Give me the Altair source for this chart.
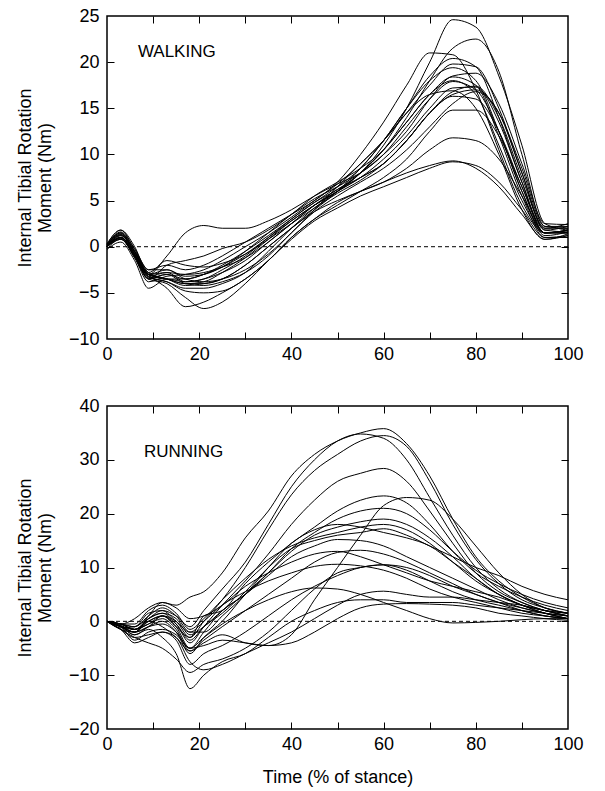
import altair as alt
import pandas as pd

# ---------------- data ----------------
W_X = [0, 3, 6, 9, 13, 17, 21, 25, 30, 35, 40, 45, 50, 55, 60, 65, 70, 75, 80, 85, 90, 95, 100]
walking = [
    [0.2, 1.5, -0.5, -3.0, -3.5, -4.0, -3.8, -2.8, -1.2, 0.8, 2.8, 4.5, 6.0, 8.0, 11.0, 15.0, 20.0, 24.6, 23.8, 18.5, 11.0, 2.5, 1.8],
    [0.0, 1.0, -1.0, -3.5, -3.0, -3.5, -3.0, -2.0, -0.5, 1.2, 3.0, 4.8, 6.2, 8.0, 10.5, 14.0, 18.0, 21.5, 22.5, 19.0, 10.0, 2.2, 2.0],
    [0.3, 1.8, -0.3, -2.5, -2.0, -2.5, -2.0, -1.0, 0.5, 2.0, 3.5, 5.0, 7.0, 10.0, 13.5, 17.5, 21.0, 20.8, 17.0, 10.5, 4.5, 1.5, 1.8],
    [0.0, 1.2, -0.8, -3.2, -2.8, -3.8, -3.5, -2.5, -1.0, 1.0, 3.0, 4.8, 6.5, 8.5, 11.5, 15.0, 18.5, 20.4, 19.5, 14.0, 7.0, 1.5, 1.5],
    [-0.2, 0.8, -1.2, -3.8, -3.2, -3.0, -2.5, -1.5, 0.0, 1.5, 3.2, 5.0, 6.8, 9.0, 11.5, 14.5, 17.5, 19.8, 19.5, 15.0, 8.0, 1.8, 2.2],
    [0.1, 1.5, -0.5, -2.8, -3.5, -4.2, -4.0, -3.5, -2.0, 0.0, 2.0, 4.0, 6.0, 8.5, 11.5, 15.0, 18.0, 19.4, 18.0, 12.5, 6.0, 1.2, 1.6],
    [0.0, 0.8, -1.0, -3.0, -2.5, -3.2, -3.0, -2.2, -0.5, 1.5, 3.5, 5.2, 6.5, 8.0, 10.0, 12.5, 16.0, 18.5, 18.8, 15.5, 9.0, 2.5, 2.4],
    [0.2, 1.3, -0.6, -3.3, -3.8, -4.5, -4.5, -4.0, -2.8, -0.5, 2.0, 4.2, 6.0, 8.0, 10.5, 13.5, 16.5, 18.4, 17.5, 12.0, 5.5, 1.0, 1.2],
    [0.0, 1.0, -1.0, -3.5, -2.0, -1.5, -1.0, -0.2, 0.5, 1.8, 3.5, 5.5, 7.0, 8.5, 10.5, 13.5, 16.5, 18.0, 16.5, 11.0, 5.0, 1.5, 1.5],
    [-0.3, 0.5, -1.5, -4.5, -3.5, -3.8, -3.5, -2.8, -1.5, 0.5, 2.5, 4.5, 6.0, 7.5, 9.5, 12.0, 15.0, 17.2, 17.3, 13.5, 7.0, 1.5, 1.8],
    [0.0, 1.0, -0.8, -3.0, -3.5, -3.5, -3.0, -2.2, -0.8, 1.0, 2.8, 4.5, 6.0, 7.5, 9.0, 11.5, 14.5, 16.5, 17.0, 14.5, 8.0, 2.0, 2.5],
    [0.2, 1.6, -0.2, -2.5, -2.5, -3.5, -3.8, -3.5, -2.5, -0.8, 1.5, 4.0, 6.5, 9.0, 11.5, 14.5, 16.5, 16.9, 15.0, 10.0, 4.0, 0.8, 1.4],
    [0.0, 0.9, -1.2, -3.4, -3.0, -4.0, -4.2, -3.8, -2.8, -1.0, 1.5, 3.8, 5.5, 7.0, 8.5, 10.5, 13.0, 15.5, 16.8, 14.5, 8.5, 2.2, 2.2],
    [0.1, 1.4, -0.6, -2.8, -1.5, -2.0, -2.2, -1.8, -0.8, 0.8, 2.5, 4.2, 5.8, 7.2, 9.0, 11.5, 14.5, 16.3, 16.0, 12.5, 6.5, 1.5, 1.8],
    [0.0, 1.0, -0.8, -3.2, -3.8, -4.8, -5.0, -4.8, -3.5, -1.5, 1.0, 3.0, 4.5, 6.0, 7.5, 9.5, 12.5, 14.8, 14.8, 12.0, 6.5, 1.8, 1.6],
    [0.0, 1.2, -0.5, -3.0, -3.5, -4.0, -4.0, -3.5, -2.0, 0.0, 2.0, 3.8, 5.0, 6.0, 7.0, 8.5, 10.5, 11.8, 11.5, 9.5, 5.5, 1.5, 1.5],
    [0.2, 1.0, -1.0, -3.0, -4.5, -6.5, -6.0, -5.0, -3.5, -1.5, 1.0, 3.0, 4.8, 6.0, 7.0, 8.0, 8.8, 9.3, 8.5, 6.5, 3.5, 0.8, 1.2],
    [0.0, 1.3, -0.8, -3.5, -4.0, -5.5, -6.7, -6.0, -4.0, -1.5, 0.8, 2.8, 4.2, 5.5, 6.5, 7.5, 8.5, 9.2, 8.8, 7.0, 4.0, 1.0, 1.0],
    [0.0, 0.8, -1.0, -3.0, -1.0, 1.5, 2.3, 2.0, 2.0, 2.8, 4.0, 5.5, 6.8, 8.0, 10.0, 13.0, 16.0, 17.9, 17.0, 12.5, 6.0, 1.5, 1.8],
    [0.3, 1.8, 0.0, -3.0, -2.8, -3.0, -2.8, -2.2, -1.2, 0.5, 2.5, 4.5, 6.2, 7.5, 9.0, 11.5, 14.5, 16.8, 17.4, 14.0, 7.5, 2.0, 2.0],
]

R_X = [0, 3, 6, 9, 12, 15, 18, 21, 25, 30, 35, 40, 45, 50, 55, 60, 65, 70, 75, 80, 85, 90, 95, 100]
running = [
    [0.0, -0.5, 0.5, 2.5, 3.5, 3.0, 4.5, 5.5, 9.0, 15.5, 20.5, 27.0, 31.0, 33.5, 35.0, 35.8, 33.0, 27.0, 19.0, 12.0, 7.5, 4.5, 2.5, 1.5],
    [0.0, -1.0, -1.5, 0.5, 2.0, 1.0, -1.0, 2.0, 6.0, 11.0, 18.0, 25.0, 30.0, 33.5, 34.8, 34.0, 30.0, 23.0, 16.0, 10.0, 6.0, 3.5, 2.0, 1.0],
    [0.0, -0.8, -2.0, -1.0, 1.0, -1.0, -3.0, 0.0, 4.0, 10.0, 17.0, 23.5, 28.0, 31.0, 33.5, 34.5, 32.5, 26.0, 18.0, 11.5, 7.0, 4.0, 2.5, 1.5],
    [0.0, -1.2, -1.0, 0.5, 1.5, -0.5, -4.0, -1.0, 3.0, 7.5, 12.5, 18.0, 22.5, 26.0, 27.5, 28.4, 26.0, 20.5, 14.5, 9.0, 5.5, 3.5, 2.0, 1.0],
    [0.0, -0.5, -1.5, -0.5, 1.0, 0.0, -3.0, 1.0, 2.0, 7.0, 11.0, 14.5, 17.5, 20.5, 22.5, 23.3, 22.0, 18.0, 13.0, 9.0, 6.5, 4.5, 3.0, 2.0],
    [0.0, -1.0, -3.5, -2.0, -1.5, -2.5, -5.0, -4.5, -3.5, -4.0, -4.5, -2.5, 4.0, 10.0, 16.0, 21.5, 23.0, 22.5, 19.0, 14.0, 9.0, 5.0, 2.5, 1.5],
    [0.0, -1.5, -2.0, 0.0, 1.0, -1.0, -5.0, -2.0, 2.0, 5.0, 9.0, 13.5, 16.5, 19.0, 20.5, 21.0, 20.0, 17.0, 13.0, 9.5, 7.0, 5.0, 3.5, 2.5],
    [0.0, -0.5, -1.0, 1.5, 2.0, 0.0, -2.0, -2.0, 1.0, 5.0, 10.0, 14.5, 17.0, 18.0, 17.5, 16.5, 15.5, 14.0, 11.0, 8.0, 5.0, 3.0, 2.0, 1.0],
    [0.0, -1.0, -2.5, -1.0, 0.0, -2.0, -6.0, -3.0, 0.0, 5.0, 9.0, 13.0, 16.0, 17.5, 18.5, 19.0, 18.0, 15.5, 12.0, 8.0, 5.0, 3.0, 1.5, 0.5],
    [0.0, -0.5, -1.5, 0.0, 1.0, -0.5, -3.5, -1.0, 1.5, 5.5, 10.0, 13.5, 15.0, 16.0, 16.5, 17.2, 16.0, 14.0, 12.0, 10.0, 8.5, 6.5, 5.0, 4.0],
    [0.0, -1.0, -2.0, 0.5, 1.5, 0.5, -2.5, -1.0, 2.0, 5.0, 8.5, 12.0, 14.0, 15.2, 15.0, 14.0, 12.0, 10.0, 8.0, 6.0, 4.0, 2.5, 1.5, 1.0],
    [0.0, -0.8, -1.5, -0.5, 0.5, -1.5, -5.5, -3.5, -1.0, 2.0, 5.0, 8.0, 11.0, 12.8, 13.2, 12.5, 11.0, 9.0, 7.0, 5.0, 3.5, 2.0, 1.0, 0.5],
    [0.0, -1.5, -3.0, -2.5, -2.0, -3.5, -8.0, -6.0, -4.5, -2.0, 1.0, 4.0, 6.5, 8.5, 10.0, 10.5, 9.5, 7.5, 5.5, 4.0, 3.0, 2.0, 1.0, 0.5],
    [0.0, -0.5, -1.0, 1.0, 2.5, 1.0, -2.0, 0.0, 3.0, 5.5, 7.5, 9.0, 10.2, 10.6, 10.3, 9.5, 8.0, 6.0, 4.5, 3.5, 2.5, 1.5, 1.0, 0.5],
    [0.0, -1.0, -2.0, -1.0, -0.5, -2.0, -5.0, -3.0, -0.5, 2.0, 4.0, 5.5, 6.2, 6.0, 5.0, 3.5, 2.0, 0.5, -0.3, -0.2, 0.0, 0.3, 0.5, 0.5],
    [0.0, -1.5, -4.0, -3.0, -2.0, -3.0, -7.5, -9.0, -8.0, -6.0, -4.0, -2.0, 0.5, 3.0, 5.0, 5.6, 5.0, 4.5, 4.5, 4.0, 3.5, 3.0, 2.0, 1.5],
    [0.0, -1.0, -2.5, -1.5, -3.0, -6.0, -12.5, -10.0, -7.5, -6.0, -3.0, 0.0, 2.0, 3.5, 4.0, 4.0, 3.5, 3.5, 3.5, 3.0, 2.5, 2.0, 1.5, 1.0],
    [0.0, -0.5, -1.5, 0.0, -1.0, -3.0, -5.5, -4.0, -2.5, -4.0, -4.5, -4.0, -2.0, 0.5, 2.5, 3.2, 3.3, 3.2, 3.0, 2.5, 1.5, 1.0, 0.5, 0.2],
    [0.0, -1.0, -2.0, 1.0, 3.5, 2.5, 0.5, 1.0, 3.0, 6.5, 9.0, 11.0, 12.5, 13.0, 12.0, 10.5, 9.0, 7.5, 6.5, 5.5, 4.5, 3.0, 2.0, 1.5],
    [0.0, -1.5, -3.0, -4.0, -5.0, -7.0, -9.5, -8.0, -7.0, -5.0, -2.0, 2.0, 6.0, 9.0, 10.0, 10.5, 10.0, 8.5, 6.5, 5.0, 3.5, 2.5, 1.5, 0.5],
    [0.0, -0.5, -0.5, 2.0, 3.0, 1.5, -1.5, 0.5, 4.0, 8.0, 11.5, 14.0, 15.5, 16.5, 17.5, 18.0, 17.0, 14.5, 11.0, 7.5, 5.0, 3.0, 1.5, 0.5],
]

X_LABELS = [0, 20, 40, 60, 80, 100]
X_TICKS = [10, 20, 30, 40, 50, 60, 70, 80, 90]
W_YTICKS = [-10, -5, 0, 5, 10, 15, 20, 25]
R_YTICKS = [-20, -10, 0, 10, 20, 30, 40]
Y_TITLE = ["Internal Tibial Rotation", "Moment (Nm)"]
X_TITLE = "Time (% of stance)"
W_LABEL = {"text": "WALKING", "x": 6.7, "y": 21.1}
R_LABEL = {"text": "RUNNING", "x": 8.0, "y": 31.5}

W = 461
H = 323
FONT = "Liberation Sans"


def to_long(xs, curves):
    rows = []
    for i, c in enumerate(curves):
        for xv, yv in zip(xs, c):
            rows.append({"id": i, "x": xv, "y": yv})
    return pd.DataFrame(rows)


def panel(df, ydomain, yticks, label, xtitle):
    xs = alt.Scale(domain=[0, 100], nice=False, zero=False)
    ys = alt.Scale(domain=ydomain, nice=False, zero=False)
    base = alt.Chart(df)
    lines = base.mark_line(color="black", strokeWidth=1, interpolate="monotone").encode(
        x=alt.X("x:Q", scale=xs, axis=alt.Axis(
            values=X_LABELS, ticks=False, domain=False, grid=False,
            labelFontSize=18, labelPadding=6, labelFlush=False, labelOverlap=False,
            title=xtitle if xtitle else None, titleFontSize=18, titleFontWeight="normal",
            titlePadding=15)),
        y=alt.Y("y:Q", scale=ys, axis=alt.Axis(
            values=yticks, ticks=False, domain=False, grid=False,
            labelFontSize=18, labelPadding=8, labelFlush=False, labelOverlap=False,
            title=Y_TITLE, titleFontSize=18, titleFontWeight="normal", titlePadding=14)),
        detail="id:N",
    )
    ticks_a = base.mark_line(opacity=0).encode(
        x=alt.X("x:Q", scale=xs, axis=alt.Axis(
            orient="top", offset=-H, values=X_TICKS, labels=False, domain=False,
            grid=False, tickSize=7, tickColor="black", tickWidth=1, title=None)),
        y=alt.Y("y:Q", scale=ys, axis=alt.Axis(
            orient="right", offset=-W, values=yticks[1:-1], labels=False, domain=False,
            grid=False, tickSize=7, tickColor="black", tickWidth=1, title=None)),
        detail="id:N",
    )
    ticks_b = base.mark_line(opacity=0).encode(
        x=alt.X("x:Q", scale=xs, axis=alt.Axis(
            orient="bottom", offset=-H, values=X_TICKS, labels=False, domain=False,
            grid=False, tickSize=7, tickColor="black", tickWidth=1, title=None)),
        y=alt.Y("y:Q", scale=ys, axis=alt.Axis(
            orient="left", offset=-W, values=yticks[1:-1], labels=False, domain=False,
            grid=False, tickSize=7, tickColor="black", tickWidth=1, title=None)),
        detail="id:N",
    )
    zero = alt.Chart(pd.DataFrame({"y": [0]})).mark_rule(
        color="black", strokeWidth=1, strokeDash=[4, 3]
    ).encode(y=alt.Y("y:Q", scale=ys, axis=None))
    lab = alt.Chart(pd.DataFrame([label])).mark_text(
        align="left", baseline="middle", fontSize=17, font=FONT, color="black"
    ).encode(
        x=alt.X("x:Q", scale=xs, axis=None),
        y=alt.Y("y:Q", scale=ys, axis=None),
        text="text:N",
    )
    return alt.layer(lines, ticks_a, ticks_b, zero, lab).resolve_axis(
        x="independent", y="independent"
    ).properties(width=W, height=H)


top = panel(to_long(W_X, walking), [-10, 25], W_YTICKS, W_LABEL, None)
bottom = panel(to_long(R_X, running), [-20, 40], R_YTICKS, R_LABEL, X_TITLE)

chart = alt.vconcat(top, bottom, spacing=32).properties(
    padding={"left": 15, "top": 6, "right": 10, "bottom": 5},
    background="white",
).configure_view(
    stroke="black", strokeWidth=1.5
).configure_axis(
    labelFont=FONT, titleFont=FONT, labelColor="black", titleColor="black"
)

chart.save("out.html", embed_options={"renderer": "svg", "actions": False})
